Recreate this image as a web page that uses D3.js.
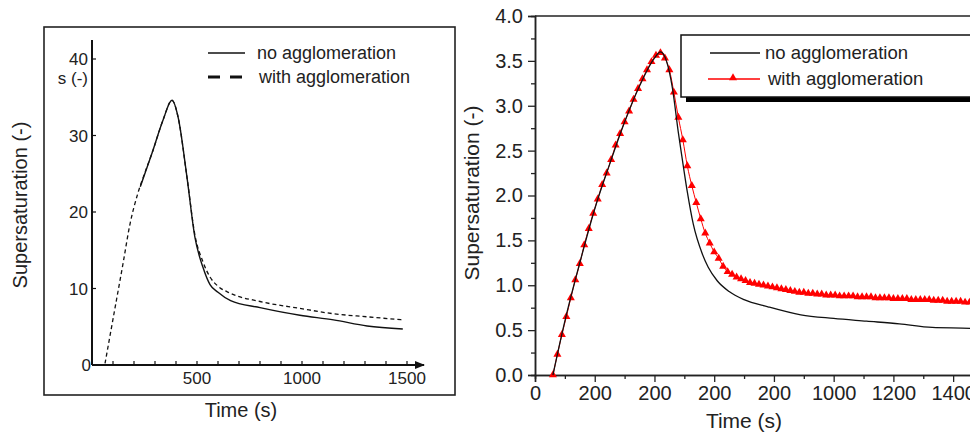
<!DOCTYPE html>
<html>
<head>
<meta charset="utf-8">
<script src="https://cdn.jsdelivr.net/npm/d3@7"></script>
<style>
  body { margin: 0; background: #fff; }
  text { font-family: "Liberation Sans", Arial, sans-serif; fill: #222; }
</style>
</head>
<body>
<script>
// ---- left panel data (s in -, time in s) ----
const leftNoAggTime = [230, 286, 338, 381, 410, 452, 490, 528, 562, 600, 660, 800, 990, 1150, 1310, 1480];
const leftNoAggS    = [23.3, 27.7, 32.0, 34.6, 32.4, 24.6, 16.7, 12.8, 10.5, 9.5, 8.4, 7.5, 6.5, 5.9, 5.1, 4.7];
const leftAggTime   = [62, 100, 148, 180, 219, 250, 286, 338, 381, 410, 452, 490, 528, 562, 600, 657, 800, 990, 1150, 1310, 1480];
const leftAggS      = [0.2, 6.0, 13.3, 18.3, 22.5, 25.0, 27.7, 32.0, 34.6, 32.4, 24.6, 17.0, 13.5, 11.5, 10.3, 9.4, 8.3, 7.4, 6.7, 6.3, 5.9];
const leftXTicks = [500, 1000, 1500];
const leftYTicks = [0, 10, 20, 30, 40];

// ---- right panel data ----
const rightNoAggTime = [60, 100, 150, 200, 250, 300, 350, 400, 420, 440, 460, 480, 492, 510, 530, 560, 580, 610, 650, 700, 780, 890, 1000, 1110, 1220, 1330, 1460, 1500];
const rightNoAggS    = [0.0, 0.6, 1.25, 1.85, 2.35, 2.82, 3.22, 3.53, 3.6, 3.5, 3.2, 2.7, 2.43, 2.04, 1.68, 1.35, 1.2, 1.05, 0.93, 0.84, 0.76, 0.67, 0.63, 0.6, 0.57, 0.53, 0.52, 0.51];
const rightAggTime = [60, 75, 90, 105, 120, 135, 150, 165, 180, 195, 210, 225, 240, 255, 270, 285, 300, 315, 330, 345,
                      360, 375, 390, 405, 420, 435, 450, 465, 480, 495, 510, 525, 540, 555, 570, 585, 600, 615, 630, 645,
                      660, 675, 690, 705, 720, 735, 750, 765, 780, 795, 810, 825, 840, 855, 870, 885, 900, 915, 930, 945,
                      960, 975, 990, 1005, 1020, 1035, 1050, 1065, 1080, 1095, 1110, 1125, 1140, 1155, 1170, 1185, 1200, 1215, 1230, 1245,
                      1260, 1275, 1290, 1305, 1320, 1335, 1350, 1365, 1380, 1395, 1410, 1425, 1440, 1455, 1470];
const rightAggS = [0.0, 0.23, 0.45, 0.65, 0.86, 1.06, 1.24, 1.45, 1.63, 1.80, 1.96, 2.12, 2.25, 2.40, 2.56, 2.69, 2.82, 2.94, 3.07, 3.19,
                   3.30, 3.40, 3.49, 3.56, 3.59, 3.53, 3.40, 3.15, 2.87, 2.62, 2.33, 2.11, 1.92, 1.74, 1.58, 1.47, 1.37, 1.30, 1.21, 1.15,
                   1.12, 1.09, 1.07, 1.05, 1.03, 1.02, 1.01, 1.00, 0.99, 0.98, 0.97, 0.96, 0.95, 0.94, 0.93, 0.92, 0.92, 0.91, 0.91, 0.90,
                   0.90, 0.89, 0.89, 0.89, 0.88, 0.88, 0.88, 0.88, 0.87, 0.87, 0.87, 0.87, 0.86, 0.86, 0.86, 0.86, 0.85, 0.85, 0.85, 0.85,
                   0.84, 0.84, 0.84, 0.84, 0.84, 0.83, 0.83, 0.83, 0.82, 0.82, 0.82, 0.82, 0.81, 0.81, 0.81];
const rightXTicks = [0, 200, 400, 600, 800, 1000, 1200, 1400];
const rightXLabels = ["0", "200", "200", "200", "200", "1000", "1200", "1400"];
const rightYTicks = [0, 0.5, 1.0, 1.5, 2.0, 2.5, 3.0, 3.5, 4.0];

const w = 970;
const h = 435;

const svg = d3.select("body")
    .append("svg")
    .attr("width", w)
    .attr("height", h)

// ================= LEFT PANEL =================
const xL = d3.scaleLinear().domain([0, 1500]).range([92, 407]);
const yL = d3.scaleLinear().domain([0, 40]).range([365, 59]);

svg.append("rect")
    .attr("x", 44).attr("y", 27)
    .attr("width", 411).attr("height", 368)
    .attr("fill", "none").attr("stroke", "#222").attr("stroke-width", 1.6)

svg.append("defs").append("marker")
    .attr("id", "arrow")
    .attr("viewBox", "0 0 10 10")
    .attr("refX", 9).attr("refY", 5)
    .attr("markerWidth", 5).attr("markerHeight", 5)
    .attr("orient", "auto")
    .append("path")
    .attr("d", "M0,1 L10,5 L0,9 Z")
    .attr("fill", "#111")

// x axis (arrow) and y axis lines
svg.append("line")
    .attr("x1", xL(0)).attr("y1", yL(0))
    .attr("x2", 424).attr("y2", yL(0))
    .attr("stroke", "#111").attr("stroke-width", 2)
    .attr("marker-end", "url(#arrow)")

svg.append("line")
    .attr("x1", xL(0)).attr("y1", yL(0))
    .attr("x2", xL(0)).attr("y2", 40)
    .attr("stroke", "#111").attr("stroke-width", 2)

// small ticks every 100 s, pointing up
const leftMinor = d3.range(100, 1501, 100);
svg.append("g").selectAll("line")
    .data(leftMinor)
    .enter().append("line")
    .attr("x1", d => xL(d)).attr("x2", d => xL(d))
    .attr("y1", yL(0)).attr("y2", yL(0) - 4)
    .attr("stroke", "#111").attr("stroke-width", 1.2)

svg.append("g").selectAll("text")
    .data(leftXTicks)
    .enter().append("text")
    .attr("x", d => xL(d))
    .attr("y", 384)
    .attr("text-anchor", "middle")
    .style("font-size", "17px")
    .text(d => d)

svg.append("g").selectAll("line")
    .data(leftYTicks)
    .enter().append("line")
    .attr("x1", xL(0)).attr("x2", xL(0) + 4)
    .attr("y1", d => yL(d)).attr("y2", d => yL(d))
    .attr("stroke", "#111").attr("stroke-width", 1.2)

svg.append("g").selectAll("text")
    .data(leftYTicks)
    .enter().append("text")
    .attr("x", d => d === 0 ? 91 : 88)
    .attr("y", d => yL(d) + 6)
    .attr("text-anchor", "end")
    .style("font-size", "17px")
    .text(d => d)

svg.append("text")
    .attr("x", 88).attr("y", 84)
    .attr("text-anchor", "end")
    .style("font-size", "17px")
    .text("s (-)")

svg.append("text")
    .attr("x", 241).attr("y", 417)
    .attr("text-anchor", "middle")
    .style("font-size", "20px")
    .text("Time (s)")

svg.append("text")
    .attr("transform", "translate(27,205) rotate(-90)")
    .attr("text-anchor", "middle")
    .style("font-size", "20px")
    .text("Supersaturation (-)")

const lineL = d3.line()
    .x(d => xL(d[0]))
    .y(d => yL(d[1]))
    .curve(d3.curveMonotoneX)

svg.append("path")
    .datum(d3.zip(leftAggTime, leftAggS))
    .attr("d", lineL)
    .attr("fill", "none").attr("stroke", "#111")
    .attr("stroke-width", 1.3)
    .attr("stroke-dasharray", "4,3")

svg.append("path")
    .datum(d3.zip(leftNoAggTime, leftNoAggS))
    .attr("d", lineL)
    .attr("fill", "none").attr("stroke", "#111")
    .attr("stroke-width", 1.4)

// left legend
svg.append("line")
    .attr("x1", 208).attr("x2", 245).attr("y1", 53).attr("y2", 53)
    .attr("stroke", "#111").attr("stroke-width", 1.5)
svg.append("text")
    .attr("x", 257).attr("y", 59)
    .style("font-size", "18px")
    .text("no agglomeration")
svg.append("line")
    .attr("x1", 208).attr("x2", 243).attr("y1", 77).attr("y2", 77)
    .attr("stroke", "#111").attr("stroke-width", 3)
    .attr("stroke-dasharray", "12,10")
svg.append("text")
    .attr("x", 259).attr("y", 83)
    .style("font-size", "18px")
    .text("with agglomeration")

// ================= RIGHT PANEL =================
const xR = d3.scaleLinear().domain([0, 1500]).range([535, 983]);
const yR = d3.scaleLinear().domain([0, 4]).range([375, 16]);

const xAxisR = d3.axisBottom(xR)
    .tickValues(rightXTicks)
    .tickSize(7)
    .tickPadding(4)
    .tickFormat((d, i) => rightXLabels[i])
const xMinorR = d3.axisBottom(xR)
    .tickValues(d3.range(100, 1500, 200))
    .tickSize(4)
    .tickFormat("")
const yAxisR = d3.axisLeft(yR)
    .tickValues(rightYTicks)
    .tickSize(7)
    .tickPadding(5)
    .tickFormat(d3.format(".1f"))
const yMinorR = d3.axisLeft(yR)
    .tickValues(d3.range(0.25, 4, 0.5))
    .tickSize(4)
    .tickFormat("")

svg.append("line")
    .attr("x1", xR(0)).attr("x2", w).attr("y1", yR(4)).attr("y2", yR(4))
    .attr("stroke", "#222").attr("stroke-width", 1.5)

svg.append("g")
    .attr("transform", "translate(0," + yR(0) + ")")
    .call(xMinorR)
svg.append("g")
    .attr("transform", "translate(0," + yR(0) + ")")
    .call(xAxisR)
svg.append("g")
    .attr("transform", "translate(" + xR(0) + ",0)")
    .call(yMinorR)
svg.append("g")
    .attr("transform", "translate(" + xR(0) + ",0)")
    .call(yAxisR)

svg.selectAll(".domain").attr("stroke", "#222").attr("stroke-width", 1.5)
svg.selectAll(".tick line").attr("stroke", "#222").attr("stroke-width", 1.3)
svg.selectAll(".tick text")
    .style("font-family", "\"Liberation Sans\", Arial, sans-serif")
    .style("font-size", "20px")
    .attr("fill", "#222")

svg.append("text")
    .attr("x", 744).attr("y", 428)
    .attr("text-anchor", "middle")
    .style("font-size", "21px")
    .text("Time (s)")

svg.append("text")
    .attr("transform", "translate(479,193) rotate(-90)")
    .attr("text-anchor", "middle")
    .style("font-size", "21px")
    .text("Supersaturation (-)")

const lineR = d3.line()
    .x(d => xR(d[0]))
    .y(d => yR(d[1]))
    .curve(d3.curveMonotoneX)

const clipR = svg.append("clipPath").attr("id", "clipR")
    .append("rect").attr("x", xR(0)).attr("y", 0).attr("width", w).attr("height", yR(0) + 4)

const aggR = d3.zip(rightAggTime, rightAggS);

svg.append("path")
    .datum(aggR)
    .attr("d", lineR)
    .attr("clip-path", "url(#clipR)")
    .attr("fill", "none").attr("stroke", "#f00")
    .attr("stroke-width", 1)

svg.append("g")
    .attr("clip-path", "url(#clipR)")
    .selectAll("path")
    .data(aggR)
    .enter().append("path")
    .attr("d", d3.symbol().type(d3.symbolTriangle).size(28))
    .attr("transform", d => "translate(" + xR(d[0]) + "," + yR(d[1]) + ")")
    .attr("fill", "#f00")

svg.append("path")
    .datum(d3.zip(rightNoAggTime, rightNoAggS))
    .attr("d", lineR)
    .attr("clip-path", "url(#clipR)")
    .attr("fill", "none").attr("stroke", "#111")
    .attr("stroke-width", 1.3)

// right legend with shadow
svg.append("rect")
    .attr("x", 686).attr("y", 40).attr("width", 300).attr("height", 62)
    .attr("fill", "#000")
svg.append("rect")
    .attr("x", 681).attr("y", 35).attr("width", 300).attr("height", 62)
    .attr("fill", "#fff").attr("stroke", "#111").attr("stroke-width", 1.5)
svg.append("line")
    .attr("x1", 710).attr("x2", 760).attr("y1", 53).attr("y2", 53)
    .attr("stroke", "#111").attr("stroke-width", 1.3)
svg.append("text")
    .attr("x", 765).attr("y", 59)
    .style("font-size", "18.5px")
    .text("no agglomeration")
svg.append("line")
    .attr("x1", 708).attr("x2", 760).attr("y1", 79).attr("y2", 79)
    .attr("stroke", "#f00").attr("stroke-width", 1.3)
svg.append("path")
    .attr("d", d3.symbol().type(d3.symbolTriangle).size(28))
    .attr("transform", "translate(733,78)")
    .attr("fill", "#f00")
svg.append("text")
    .attr("x", 768).attr("y", 85)
    .style("font-size", "18.5px")
    .text("with agglomeration")
</script>
</body>
</html>
